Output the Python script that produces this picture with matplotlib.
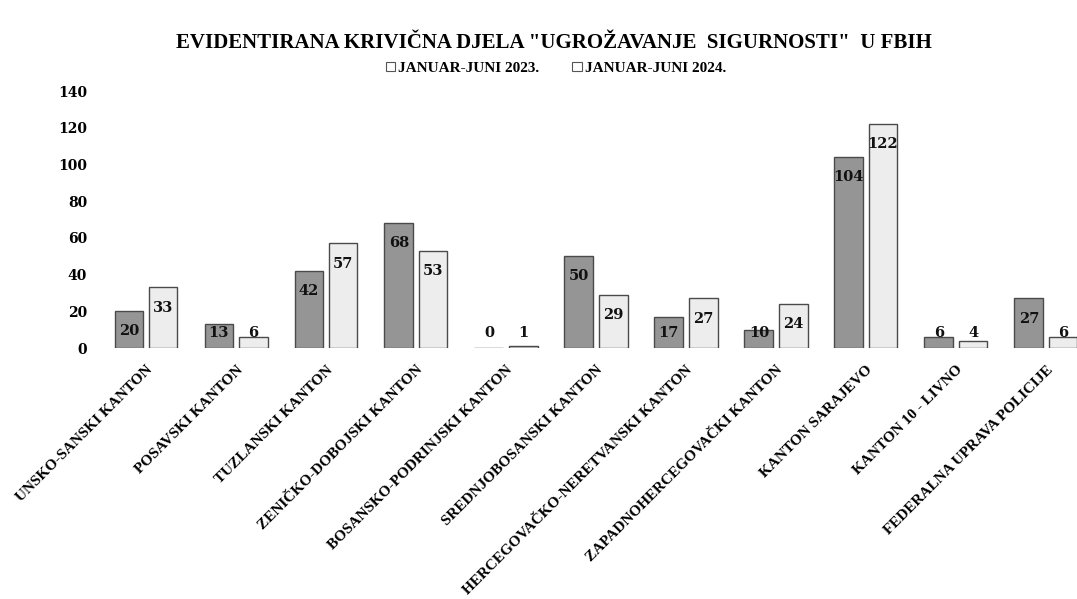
import matplotlib
matplotlib.use('Agg')
import matplotlib.pyplot as plt
from matplotlib.patches import Patch
import numpy as np

plt.rcParams['font.family'] = ['Liberation Serif', 'DejaVu Serif']
plt.rcParams['font.weight'] = 'bold'
NUM_FONT = ['DejaVu Serif']

TITLE = 'EVIDENTIRANA KRIVIČNA DJELA "UGROŽAVANJE  SIGURNOSTI"  U FBIH'

cantons = [
    'UNSKO-SANSKI KANTON',
    'POSAVSKI KANTON',
    'TUZLANSKI KANTON',
    'ZENIČKO-DOBOJSKI KANTON',
    'BOSANSKO-PODRINJSKI KANTON',
    'SREDNJOBOSANSKI KANTON',
    'HERCEGOVAČKO-NERETVANSKI KANTON',
    'ZAPADNOHERCEGOVAČKI KANTON',
    'KANTON SARAJEVO',
    'KANTON 10 - LIVNO',
    'FEDERALNA UPRAVA POLICIJE',
]
jan_jun_2023 = [20, 13, 42, 68, 0, 50, 17, 10, 104, 6, 27]
jan_jun_2024 = [33, 6, 57, 53, 1, 29, 27, 24, 122, 4, 6]
series_labels = ['JANUAR-JUNI 2023.', 'JANUAR-JUNI 2024.']
y_ticks = [0, 20, 40, 60, 80, 100, 120, 140]

fig = plt.figure(figsize=(10.77, 5.99), dpi=100)
ax = fig.add_axes([101 / 1077, 251 / 599, 976 / 1077, 257 / 599])

x = np.arange(len(cantons))
w = 0.32
off = 0.19
b1 = ax.bar(x - off, jan_jun_2023, w, color='#959595', edgecolor='#4a4a4a', linewidth=1)
b2 = ax.bar(x + off, jan_jun_2024, w, color='#ededed', edgecolor='#4a4a4a', linewidth=1)

# value labels sit just under the bar top, but never lower than ~8
for bars, vals in ((b1, jan_jun_2023), (b2, jan_jun_2024)):
    for rect, v in zip(bars, vals):
        ax.text(rect.get_x() + rect.get_width() / 2, max(v - 11, 8), str(v),
                ha='center', va='center', fontsize=10.5, fontweight='bold',
                family=NUM_FONT, color='#111111')

ax.set_xlim(-0.5, -0.5 + 976 / 90)
ax.set_ylim(0, 140)
ax.set_yticks(y_ticks)
ax.set_yticklabels([str(t) for t in y_ticks], fontsize=10, fontweight='bold', family=NUM_FONT)
ax.set_xticks(x)
ax.set_xticklabels(cantons, rotation=45, ha='right', va='top', rotation_mode='anchor',
                   fontsize=11, fontweight='bold')
ax.tick_params(axis='y', length=0, pad=10)
ax.tick_params(axis='x', length=0, pad=11)
for s in ax.spines.values():
    s.set_visible(False)

fig.text(0.514, 0.929, TITLE, ha='center', va='center', fontsize=15, fontweight='bold')

handles = [Patch(facecolor='white', edgecolor='#555555', linewidth=0.8) for _ in series_labels]
fig.legend(handles, series_labels, loc='center', bbox_to_anchor=(0.516, 0.886), ncol=2,
           frameon=False, fontsize=11, handlelength=0.6, handleheight=0.6,
           handletextpad=0.2, columnspacing=2.2)

fig.savefig('out.png', dpi=100)
